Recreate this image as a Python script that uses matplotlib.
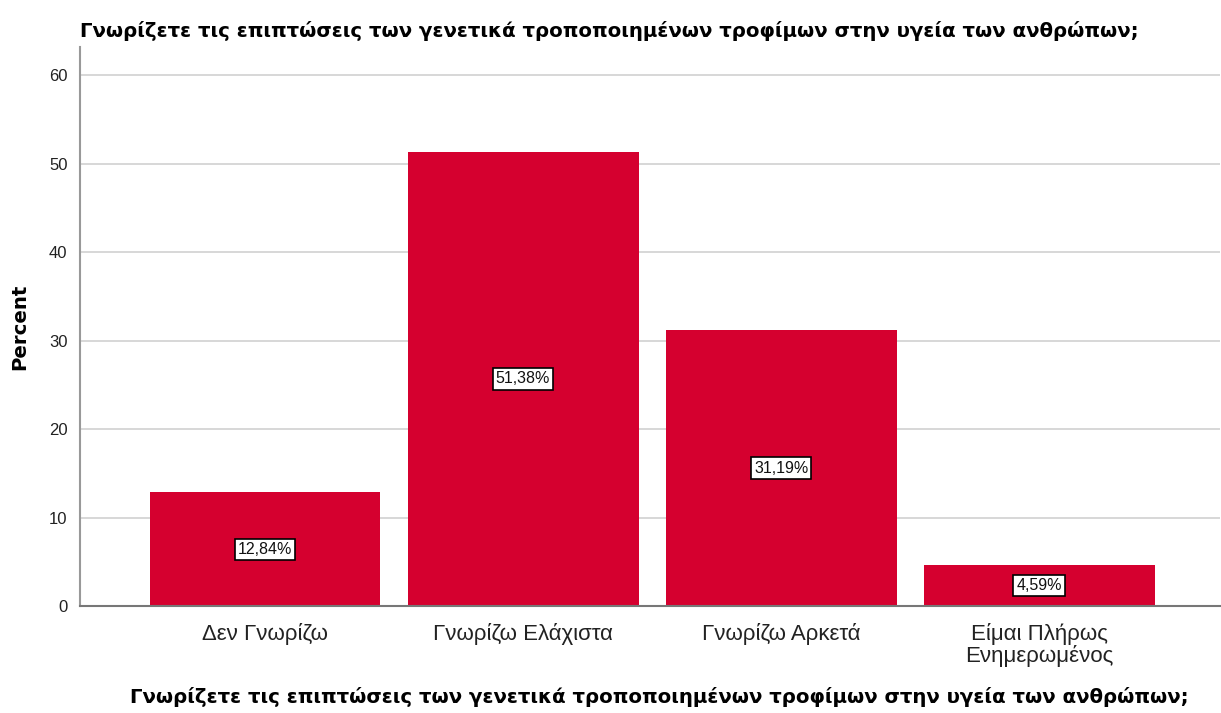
import numpy as np
import matplotlib.pyplot as plt

# Γνωρίζετε τις επιπτώσεις ... (SPSS bar chart)
categories = ["Δεν Γνωρίζω", "Γνωρίζω Ελάχιστα", "Γνωρίζω Αρκετά", "Είμαι Πλήρως\nΕνημερωμένος"]
percents = [12.84, 51.38, 31.19, 4.59]
yticks = [0, 10, 20, 30, 40, 50, 60]
title = "Γνωρίζετε τις επιπτώσεις των γενετικά τροποποιημένων τροφίμων στην υγεία των ανθρώπων;"

plt.rcParams['font.family'] = ['Liberation Sans', 'DejaVu Sans']

fig = plt.figure(figsize=(12.21, 7.13), dpi=100)
ax = fig.add_axes([0.0655, 0.150, 0.9335, 0.784])

x = np.arange(len(categories))
ax.bar(x, percents, width=0.895, color="#d5002f", zorder=2)

for xi, p in zip(x, percents):
    ax.text(xi, p / 2, f"{p:.2f}%".replace(".", ","), ha="center", va="center",
            fontsize=11.5, zorder=3, color="#111111",
            bbox=dict(boxstyle="square,pad=0.2", facecolor="white", edgecolor="black", linewidth=1.2))

ax.set_xlim(-0.717, 3.70)
ax.set_ylim(0, 63.2)
ax.set_yticks(yticks)
ax.set_xticks(x)
ax.set_xticklabels(categories, fontsize=16, color="#222222", linespacing=1.0)
ax.tick_params(axis="y", labelsize=12, length=0, pad=9, labelcolor="#222222")
ax.tick_params(axis="x", length=0, pad=12)
ax.yaxis.grid(True, color="#d4d4d4", linewidth=1.3, zorder=0)
ax.set_axisbelow(True)

for s in ["top", "right"]:
    ax.spines[s].set_visible(False)
ax.spines["left"].set_color("#999999")
ax.spines["left"].set_linewidth(1.5)
ax.spines["bottom"].set_color("#777777")
ax.spines["bottom"].set_linewidth(1.5)

bold = dict(family="DejaVu Sans", fontsize=14.2, fontweight="bold")
ax.set_ylabel("Percent", labelpad=14, **bold)
fig.text(0.540, 0.022, title, ha="center", va="center", **bold)
fig.text(0.0655, 0.957, title, ha="left", va="center", **bold)

fig.savefig("out.png", dpi=100)
